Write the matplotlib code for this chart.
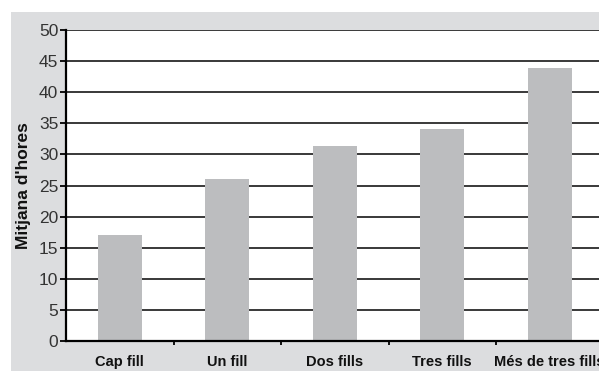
import numpy as np
import matplotlib
matplotlib.use("Agg")
import matplotlib.pyplot as plt
from matplotlib.patches import Rectangle

# Dades
categories = ["Cap fill", "Un fill", "Dos fills", "Tres fills", "Més de tres fills"]
hours = [17.0, 26.0, 31.4, 34.1, 43.9]
yticks = [0, 5, 10, 15, 20, 25, 30, 35, 40, 45, 50]

plt.rcParams['font.family'] = ['Liberation Sans', 'DejaVu Sans']

W, H = 599, 371
fig = plt.figure(figsize=(W / 100, H / 100), dpi=100)
fig.patch.set_facecolor("white")

# panell gris de fons
fig.patches.append(Rectangle((11 / W, 0), 1 - 11 / W, (H - 12) / H,
                             transform=fig.transFigure, facecolor="#dcdddf",
                             edgecolor="none", zorder=-10))

ax = fig.add_axes([66 / W, (H - 341) / H, 537.5 / W, 311 / H])
ax.set_facecolor("white")

x = np.arange(len(categories))
ax.bar(x, hours, width=0.405, color="#bcbdbf", zorder=3)

ax.set_xlim(-0.5, len(categories) - 0.5)
ax.set_ylim(0, 50)
ax.set_yticks(yticks)
ax.yaxis.grid(True, color="#2a2a2a", linewidth=1.3, zorder=1)
ax.set_axisbelow(False)

for s in ["top", "right"]:
    ax.spines[s].set_visible(False)
ax.spines["left"].set_linewidth(1.6)
ax.spines["bottom"].set_linewidth(1.6)
ax.spines["left"].set_zorder(5)
ax.spines["bottom"].set_zorder(5)

ax.tick_params(axis="y", direction="out", length=4, width=1.3,
               labelsize=12.5, labelcolor="#333333", pad=1.5)
ax.set_xticks(x)
ax.set_xticklabels(categories, fontsize=10.5, fontweight="bold", color="#111111")
ax.tick_params(axis="x", which="major", length=0, pad=10)
ax.set_xticks(np.arange(0.5, len(categories) - 0.5, 1), minor=True)
ax.tick_params(axis="x", which="minor", direction="out", length=3, width=1.3)

ax.set_ylabel("Mitjana d'hores", fontsize=12.5, fontweight="bold",
              color="#111111", labelpad=6)

fig.savefig("out.png", dpi=100)
